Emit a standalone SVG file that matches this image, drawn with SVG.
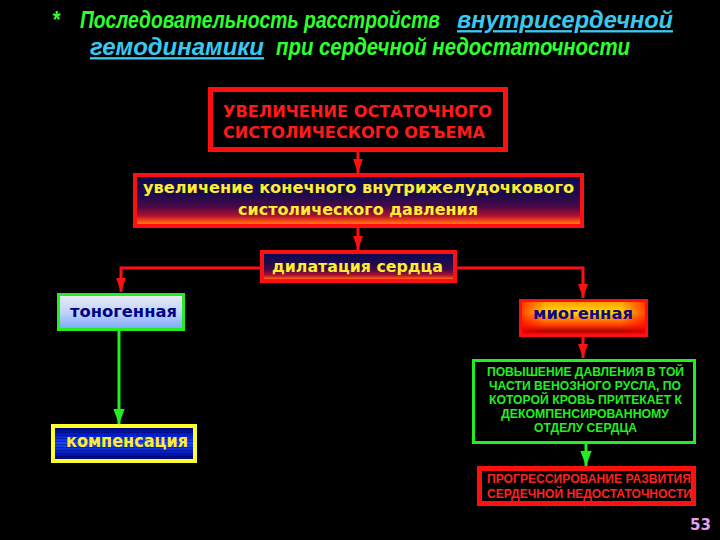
<svg xmlns="http://www.w3.org/2000/svg" width="720" height="540" viewBox="0 0 720 540">
<defs>
<style>
.t{font-family:"DejaVu Sans","Liberation Sans",sans-serif;font-weight:bold}
.n{font-family:"Liberation Sans","DejaVu Sans",sans-serif;font-weight:bold}
.ttl{font-family:"Liberation Sans","DejaVu Sans",sans-serif;font-weight:bold;font-style:italic;font-size:20px}
.red{stroke:#ff1010;stroke-width:3;fill:none}
.grn{stroke:#22ee22;stroke-width:3;fill:none}
</style>
<linearGradient id="gFire" x1="0" y1="0" x2="0" y2="1">
<stop offset="0" stop-color="#0a0a52"/>
<stop offset="0.4" stop-color="#1e0c4c"/>
<stop offset="0.62" stop-color="#4a0848"/>
<stop offset="0.8" stop-color="#b01030"/>
<stop offset="0.92" stop-color="#ff5a10"/>
<stop offset="1" stop-color="#ff9a20"/>
</linearGradient>
<linearGradient id="gTono" x1="0" y1="0" x2="0" y2="1">
<stop offset="0" stop-color="#ececf2"/>
<stop offset="0.5" stop-color="#c0d4f8"/>
<stop offset="1" stop-color="#7aaaf8"/>
</linearGradient>
<linearGradient id="gMio" x1="0" y1="0" x2="0" y2="1">
<stop offset="0" stop-color="#ff9a00"/>
<stop offset="0.35" stop-color="#ffd800"/>
<stop offset="0.7" stop-color="#ff4000"/>
<stop offset="0.88" stop-color="#b00000"/>
<stop offset="1" stop-color="#ff2000"/>
</linearGradient>
<linearGradient id="gMioSide" x1="0" y1="0" x2="1" y2="0">
<stop offset="0" stop-color="#ff0000" stop-opacity="0.7"/>
<stop offset="0.2" stop-color="#ff0000" stop-opacity="0"/>
<stop offset="0.8" stop-color="#ff0000" stop-opacity="0"/>
<stop offset="1" stop-color="#ff0000" stop-opacity="0.7"/>
</linearGradient>
<linearGradient id="gKomp" x1="0" y1="0" x2="0" y2="1">
<stop offset="0" stop-color="#000050"/>
<stop offset="0.2" stop-color="#0018c0"/>
<stop offset="0.5" stop-color="#1848ff"/>
<stop offset="0.8" stop-color="#0018c0"/>
<stop offset="1" stop-color="#000050"/>
</linearGradient>
<pattern id="stripes" width="4" height="3" patternUnits="userSpaceOnUse">
<rect width="4" height="1" fill="#000030" opacity="0.35"/>
</pattern>
<marker id="ahR" markerUnits="userSpaceOnUse" markerWidth="14" markerHeight="20" refX="20" refY="7" orient="auto" viewBox="0 0 20 14">
<path d="M0,0 L20,7 L0,14 Z" fill="#ff1010"/>
</marker>
<marker id="ahG" markerUnits="userSpaceOnUse" markerWidth="15" markerHeight="21" refX="20" refY="7.5" orient="auto" viewBox="0 0 20 15">
<path d="M0,0 L20,7.5 L0,15 Z" fill="#22ee22"/>
</marker>
</defs>
<rect width="720" height="540" fill="#000"/>

<g id="title" transform="scale(1,1.18)">
<text class="ttl" y="23.7" fill="#2dff2d"><tspan x="52">*</tspan><tspan x="80" textLength="360" lengthAdjust="spacingAndGlyphs">Последовательность расстройств</tspan><tspan x="457" fill="#3ac8f0" text-decoration="underline" textLength="216" lengthAdjust="spacingAndGlyphs">внутрисердечной</tspan></text>
<text class="ttl" y="46.6" fill="#2dff2d"><tspan x="90" fill="#3ac8f0" text-decoration="underline" textLength="174" lengthAdjust="spacingAndGlyphs">гемодинамики</tspan><tspan x="276" textLength="354" lengthAdjust="spacingAndGlyphs">при сердечной недостаточности</tspan></text>
</g>

<g id="connectors">
<line class="red" x1="358" y1="152" x2="358" y2="173" marker-end="url(#ahR)"/>
<line class="red" x1="358" y1="228" x2="358" y2="250" marker-end="url(#ahR)"/>
<polyline class="red" points="260,268 121,268 121,292" marker-end="url(#ahR)"/>
<polyline class="red" points="457,268 583,268 583,298" marker-end="url(#ahR)"/>
<line class="red" x1="583" y1="337" x2="583" y2="358" marker-end="url(#ahR)"/>
<line class="grn" x1="119" y1="331" x2="119" y2="424" marker-end="url(#ahG)"/>
<line class="grn" x1="586" y1="444" x2="586" y2="466" marker-end="url(#ahG)"/>
</g>

<g id="node-residual">
<rect x="210.5" y="89.5" width="295" height="60" fill="#000" stroke="#ff1010" stroke-width="5"/>
<text class="t" font-size="16" fill="#ff1a1a"><tspan x="223" y="117" textLength="269" lengthAdjust="spacingAndGlyphs">УВЕЛИЧЕНИЕ ОСТАТОЧНОГО</tspan><tspan x="223" y="138" textLength="262" lengthAdjust="spacingAndGlyphs">СИСТОЛИЧЕСКОГО ОБЪЕМА</tspan></text>
</g>

<g id="node-pressure">
<rect x="135" y="175" width="447" height="51" fill="url(#gFire)" stroke="#ff1010" stroke-width="4"/>
<text class="t" font-size="16" fill="#ffee30"><tspan x="143" y="193" textLength="431" lengthAdjust="spacingAndGlyphs">увеличение конечного внутрижелудочкового</tspan><tspan x="238" y="215" textLength="240" lengthAdjust="spacingAndGlyphs">систолического давления</tspan></text>
</g>

<g id="node-dilatation">
<rect x="262" y="252" width="193" height="29" fill="url(#gFire)" stroke="#ff1010" stroke-width="4"/>
<text class="t" font-size="16" fill="#ffee30" x="272" y="272" textLength="171" lengthAdjust="spacingAndGlyphs">дилатация сердца</text>
</g>

<g id="node-tonogenic">
<rect x="58.5" y="294.5" width="125" height="35" fill="url(#gTono)" stroke="#22ee22" stroke-width="3"/>
<text class="t" font-size="16" fill="#000088" x="70" y="317" textLength="107" lengthAdjust="spacingAndGlyphs">тоногенная</text>
</g>

<g id="node-myogenic">
<rect x="520.5" y="300.5" width="126" height="35" fill="url(#gMio)"/>
<rect x="520.5" y="300.5" width="126" height="35" fill="url(#gMioSide)" stroke="#ff1010" stroke-width="3"/>
<text class="t" font-size="16" fill="#100880" x="533" y="319" textLength="100" lengthAdjust="spacingAndGlyphs">миогенная</text>
</g>

<g id="node-compensation">
<rect x="53" y="426" width="142" height="35" fill="url(#gKomp)"/>
<rect x="53" y="426" width="142" height="35" fill="url(#stripes)" stroke="#ffff30" stroke-width="4"/>
<text class="t" font-size="17" fill="#ffee30" x="66" y="447" textLength="122" lengthAdjust="spacingAndGlyphs">компенсация</text>
</g>

<g id="node-venous">
<rect x="473.5" y="360.5" width="221" height="82" fill="#000" stroke="#22ee22" stroke-width="3"/>
<text class="n" font-size="12" fill="#22ee22">
<tspan x="487" y="376" textLength="197" lengthAdjust="spacingAndGlyphs">ПОВЫШЕНИЕ ДАВЛЕНИЯ В ТОЙ</tspan>
<tspan x="489" y="390" textLength="192" lengthAdjust="spacingAndGlyphs">ЧАСТИ ВЕНОЗНОГО РУСЛА, ПО</tspan>
<tspan x="489" y="404" textLength="193" lengthAdjust="spacingAndGlyphs">КОТОРОЙ КРОВЬ ПРИТЕКАЕТ К</tspan>
<tspan x="501" y="418" textLength="168" lengthAdjust="spacingAndGlyphs">ДЕКОМПЕНСИРОВАННОМУ</tspan>
<tspan x="534" y="432" textLength="103" lengthAdjust="spacingAndGlyphs">ОТДЕЛУ СЕРДЦА</tspan>
</text>
</g>

<g id="node-progression">
<rect x="479.5" y="468.5" width="214" height="35" fill="#000" stroke="#ff1010" stroke-width="5"/>
<text class="n" font-size="12" fill="#ff2020">
<tspan x="487" y="483" textLength="204" lengthAdjust="spacingAndGlyphs">ПРОГРЕССИРОВАНИЕ РАЗВИТИЯ</tspan>
<tspan x="487" y="498" textLength="205" lengthAdjust="spacingAndGlyphs">СЕРДЕЧНОЙ НЕДОСТАТОЧНОСТИ</tspan>
</text>
</g>

<g id="page-number">
<text class="t" font-size="16" fill="#e6a0f0" x="690" y="530" textLength="21" lengthAdjust="spacingAndGlyphs">53</text>
</g>
</svg>
